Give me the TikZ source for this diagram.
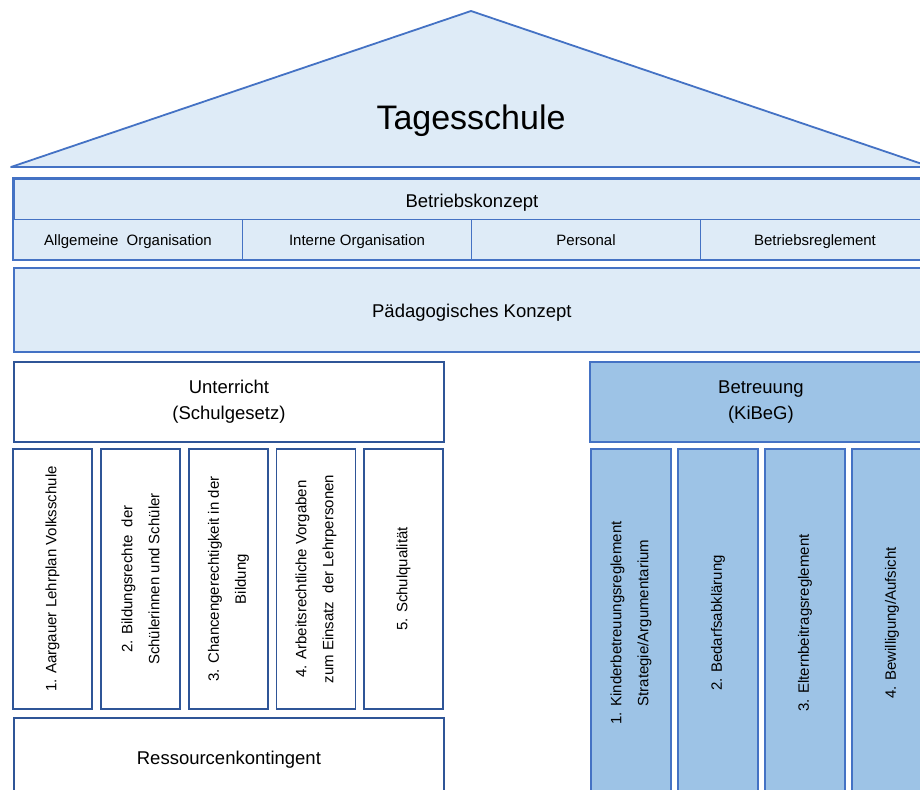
\documentclass[tikz,border=0pt]{standalone}
\usepackage{fontspec}
\setmainfont{Liberation Sans}
\definecolor{roofblue}{HTML}{DEEBF7}
\definecolor{pillarblue}{HTML}{9DC3E6}
\definecolor{lineblue}{HTML}{4472C4}
\definecolor{darkline}{HTML}{2F5597}
\tikzset{
  bigfont/.style={font=\fontsize{34}{40}\selectfont},
  mainfont/.style={font=\fontsize{18.5}{26}\selectfont},
  smallfont/.style={font=\fontsize{15}{27}\selectfont},
  lightbox/.style={draw=lineblue,fill=roofblue,line width=1.8pt,inner sep=0pt,align=center},
  whitebox/.style={draw=darkline,fill=white,line width=1.8pt,inner sep=0pt,align=center},
  bluebox/.style={draw=lineblue,fill=pillarblue,line width=1.8pt,inner sep=0pt,align=center},
}
\begin{document}
\begin{tikzpicture}[x=1pt,y=-1pt]
  \useasboundingbox (0,0) rectangle (920,789);
  \clip (0,0) rectangle (920,789);
  % roof
  \draw[lineblue,fill=roofblue,line width=1.8pt,line join=round] (11,167)--(471,11)--(931,167)--cycle;
  \node[bigfont] (roof) at (471,121) {Tagesschule};
  % Betriebskonzept
  \node[lightbox,minimum width=916,minimum height=41,anchor=north west,font=\fontsize{18.5}{20}\selectfont,text height=21pt,text depth=4pt] (betrieb) at (13,178) {Betriebskonzept};
  \foreach \name/\txt [count=\i from 0] in {allg/Allgemeine\ \ Organisation,intern/Interne Organisation,pers/Personal,regl/Betriebsreglement}
    \node[lightbox,smallfont,minimum width=229,minimum height=40,anchor=north west,line width=1pt,text height=15pt,text depth=3pt] (\name) at (13+229*\i,219) {\txt};
  \draw[lineblue,line width=1.8pt] (13,178) rectangle (regl.south east);
  % Paedagogisches Konzept
  \node[lightbox,mainfont,minimum width=916,minimum height=84,anchor=north west,text height=19.5pt,text depth=4pt] (paed) at (13,267) {Pädagogisches Konzept};
  % Unterricht
  \node[whitebox,mainfont,minimum width=430,minimum height=80,anchor=north west] (unterr) at (13,361) {Unterricht\\(Schulgesetz)};
  \foreach \name/\x/\txt in {u1/52.5/1. Aargauer Lehrplan Volksschule,
      u2/140.5/2. Bildungsrechte\ \ der\\Schülerinnen und Schüler,
      u3/228.5/3. Chancengerechtigkeit in der\\Bildung,
      u4/316/4. Arbeitsrechtliche Vorgaben\\zum Einsatz\ \ der Lehrpersonen,
      u5/403.5/5. Schulqualität}
    \node[whitebox,smallfont,rotate=90,minimum width=260,minimum height=79] (\name) at (\x,579) {\txt};
  \node[whitebox,mainfont,minimum width=430,minimum height=80,anchor=north west,text height=17.5pt,text depth=4pt] (ressourcen) at (13,717) {Ressourcenkontingent};
  % Betreuung
  \node[bluebox,mainfont,minimum width=342,minimum height=80,anchor=north west] (betreu) at (589,361) {Betreuung\\(KiBeG)};
  \foreach \name/\x/\txt in {b1/631/{1. Kinderbetreuungsreglement\\Strategie/Argumentarium},
      b2/718/2. Bedarfsabklärung,
      b3/805/3. Elternbeitragsreglement,
      b4/892/{4. Bewilligung/Aufsicht}}
    \node[bluebox,smallfont,rotate=90,minimum width=348,minimum height=80] (\name) at (\x,623) {\txt};
\end{tikzpicture}
\end{document}
